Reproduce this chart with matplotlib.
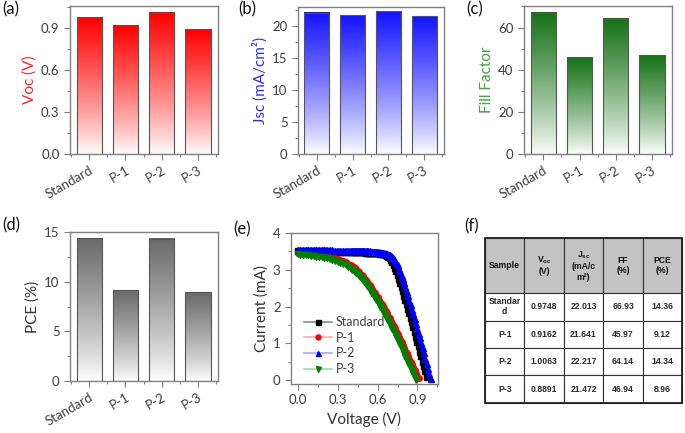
import numpy as np
import matplotlib
matplotlib.use('Agg')
import matplotlib.pyplot as plt
from matplotlib.colors import LinearSegmentedColormap
from matplotlib.patches import Rectangle
from matplotlib.ticker import MultipleLocator

plt.rcParams['font.family'] = ['Lato', 'DejaVu Sans']
plt.rcParams['mathtext.fontset'] = 'custom'
plt.rcParams['mathtext.rm'] = 'Liberation Sans'
plt.rcParams['mathtext.bf'] = 'Liberation Sans:bold'

# --- device parameters ---
samples = ['Standard', 'P-1', 'P-2', 'P-3']
voc = [0.9748, 0.9162, 1.0063, 0.8891]
jsc = [22.013, 21.641, 22.217, 21.472]
ff = [66.93, 45.97, 64.14, 46.94]
pce = [14.36, 9.12, 14.34, 8.96]

# --- J-V sweeps: 0.00-0.38 V every 0.02 V, then every 0.01 V ---
v_grid = np.round(np.concatenate([np.arange(0, 0.39, 0.02), np.arange(0.40, 1.005, 0.01)]), 2)
j_std = [3.51, 3.51, 3.51, 3.51, 3.51, 3.50, 3.50, 3.50, 3.50, 3.50,
         3.50, 3.50, 3.49, 3.49, 3.49, 3.49, 3.49, 3.49, 3.49, 3.49,
         3.49, 3.49, 3.49, 3.48, 3.48, 3.48, 3.48, 3.48, 3.48, 3.48,
         3.48, 3.47, 3.47, 3.47, 3.47, 3.47, 3.46, 3.46, 3.46, 3.45,
         3.45, 3.45, 3.44, 3.44, 3.43, 3.42, 3.40, 3.38, 3.35, 3.31,
         3.26, 3.20, 3.13, 3.05, 2.96, 2.86, 2.76, 2.65, 2.54, 2.42,
         2.30, 2.18, 2.06, 1.94, 1.82, 1.69, 1.57, 1.44, 1.31, 1.18,
         1.05, 0.92, 0.78, 0.65, 0.51, 0.38, 0.24, 0.10]
j_p1 = [3.47, 3.46, 3.46, 3.45, 3.44, 3.43, 3.42, 3.41, 3.40, 3.39,
        3.38, 3.36, 3.35, 3.33, 3.31, 3.29, 3.26, 3.23, 3.20, 3.16,
        3.12, 3.10, 3.07, 3.04, 3.01, 2.98, 2.94, 2.90, 2.86, 2.82,
        2.78, 2.73, 2.68, 2.63, 2.58, 2.52, 2.47, 2.41, 2.36, 2.30,
        2.25, 2.19, 2.13, 2.07, 2.01, 1.95, 1.88, 1.82, 1.75, 1.69,
        1.62, 1.55, 1.48, 1.41, 1.33, 1.26, 1.18, 1.11, 1.03, 0.96,
        0.88, 0.80, 0.73, 0.65, 0.58, 0.50, 0.43, 0.35, 0.28, 0.20,
        0.13, 0.05]
j_p2 = [3.54, 3.54, 3.54, 3.54, 3.54, 3.54, 3.53, 3.53, 3.53, 3.53,
        3.53, 3.53, 3.53, 3.53, 3.52, 3.52, 3.52, 3.52, 3.52, 3.52,
        3.52, 3.52, 3.52, 3.52, 3.51, 3.51, 3.51, 3.51, 3.51, 3.51,
        3.50, 3.50, 3.50, 3.50, 3.50, 3.49, 3.49, 3.49, 3.48, 3.48,
        3.48, 3.47, 3.47, 3.46, 3.45, 3.44, 3.43, 3.42, 3.41, 3.39,
        3.37, 3.34, 3.30, 3.25, 3.19, 3.12, 3.03, 2.94, 2.84, 2.74,
        2.63, 2.52, 2.40, 2.28, 2.16, 2.04, 1.92, 1.79, 1.66, 1.53,
        1.40, 1.27, 1.14, 1.00, 0.87, 0.73, 0.59, 0.45, 0.31, 0.17,
        0.03]
j_p3 = [3.42, 3.41, 3.41, 3.40, 3.39, 3.38, 3.37, 3.36, 3.35, 3.34,
        3.32, 3.31, 3.29, 3.27, 3.25, 3.22, 3.19, 3.16, 3.12, 3.08,
        3.03, 3.00, 2.97, 2.94, 2.91, 2.88, 2.84, 2.80, 2.76, 2.72,
        2.67, 2.62, 2.57, 2.52, 2.46, 2.41, 2.35, 2.29, 2.24, 2.18,
        2.12, 2.06, 1.99, 1.93, 1.87, 1.80, 1.73, 1.67, 1.60, 1.53,
        1.46, 1.39, 1.32, 1.25, 1.17, 1.10, 1.02, 0.95, 0.87, 0.80,
        0.72, 0.64, 0.56, 0.48, 0.41, 0.33, 0.25, 0.17, 0.09, 0.01]

# --- table ---
table_header = ['Sample', r'$\mathbf{V_{oc}}$' + '\n(V)', r'$\mathbf{J_{sc}}$' + '\n(mA/c\nm²)', 'FF\n(%)', 'PCE\n(%)']
table_rows = [['Standar\nd', '0.9748', '22.013', '66.93', '14.36'],
              ['P-1', '0.9162', '21.641', '45.97', '9.12'],
              ['P-2', '1.0063', '22.217', '64.14', '14.34'],
              ['P-3', '0.8891', '21.472', '46.94', '8.96']]

SPINE = '#808080'
TXT = '#404040'

fig = plt.figure(figsize=(6.85, 4.33), dpi=100)


def style(ax):
    for s in ax.spines.values():
        s.set_color(SPINE)
        s.set_linewidth(1.0)
    ax.tick_params(which='both', direction='out', color=SPINE, labelcolor=TXT,
                   top=False, right=False, labelsize=9.5, width=0.8)
    ax.tick_params(which='major', length=4)
    ax.tick_params(which='minor', length=2.5)


def bar_panel(rect, vals, color, ylabel, lab_color, ylim, major):
    ax = fig.add_axes(rect)
    cmap = LinearSegmentedColormap.from_list('fade', ['white', color])
    grad = np.linspace(0, 1, 256).reshape(-1, 1) ** 0.85
    x = np.arange(len(samples))
    for xi, v in zip(x, vals):
        ax.imshow(grad, extent=[xi - 0.35, xi + 0.35, 0, v], origin='lower',
                  aspect='auto', cmap=cmap, vmin=0, vmax=1, zorder=2)
        ax.add_patch(Rectangle((xi - 0.35, 0), 0.7, v, fill=False,
                               edgecolor='#555555', lw=0.8, zorder=3))
    ax.set_xlim(-0.53, 3.55)
    ax.set_ylim(*ylim)
    ax.set_xticks(x)
    ax.set_xticklabels(samples, rotation=30, ha='right', rotation_mode='anchor')
    ax.xaxis.set_minor_locator(MultipleLocator(0.5))
    ax.yaxis.set_major_locator(MultipleLocator(major))
    ax.yaxis.set_minor_locator(MultipleLocator(major / 2))
    ax.set_ylabel(ylabel, color=lab_color, fontsize=11, labelpad=3)
    style(ax)
    return ax


bar_panel([0.1022, 0.6443, 0.216, 0.3418], voc, '#ff0000', 'Voc (V)', '#ff2020', (0, 1.054), 0.3)
bar_panel([0.435, 0.6443, 0.213, 0.3395], jsc, '#1414ff', 'Jsc (mA/cm²)', '#2a2aff', (0, 22.9), 5)
bar_panel([0.765, 0.6443, 0.216, 0.3418], ff, '#167216', 'Fill Factor', '#3aa53a', (0, 70.2), 20)
bar_panel([0.1022, 0.120, 0.216, 0.344], pce, '#6a6a6a', 'PCE (%)', '#333333', (0, 15), 5)

# --- J-V curves ---
ax = fig.add_axes([0.4248, 0.1132, 0.2146, 0.3487])
curves = [(j_std, 'Standard', 'k', 's', (0, 0, 0, 0.45)),
          (j_p1, 'P-1', '#ff0000', 'o', (1, 0, 0, 0.35)),
          (j_p2, 'P-2', '#0000ff', '^', (0, 0, 1, 0.35)),
          (j_p3, 'P-3', '#008000', 'v', (0, 0.5, 0, 0.35))]
for j, name, c, m, lc in curves:
    ax.plot(v_grid[:len(j)], j, color=lc, lw=1.2, marker=m, ms=4,
            mfc=c, mec=c, label=name)
ax.set_xlim(-0.05, 1.054)
ax.set_ylim(-0.1, 4)
ax.xaxis.set_major_locator(MultipleLocator(0.3))
ax.xaxis.set_minor_locator(MultipleLocator(0.15))
ax.yaxis.set_major_locator(MultipleLocator(1))
ax.yaxis.set_minor_locator(MultipleLocator(0.5))
ax.set_xlabel('Voltage (V)', color='#333333', fontsize=11)
ax.set_ylabel('Current (mA)', color='#333333', fontsize=11, labelpad=3)
style(ax)
ax.legend(loc='lower left', bbox_to_anchor=(0.03, 0.0), frameon=False, fontsize=9,
          handlelength=2.2, handletextpad=0.3, labelspacing=0.3, borderaxespad=0.3,
          labelcolor=TXT, markerscale=0.9)

# --- table ---
tax = fig.add_axes([0.708, 0.0693, 0.288, 0.381])
tax.axis('off')
tbl = tax.table(cellText=table_rows, colLabels=table_header, cellLoc='center',
                bbox=[0, 0, 1, 1])
tbl.auto_set_font_size(False)
tbl.set_fontsize(6.2)
for (r, c), cell in tbl.get_celld().items():
    cell.set_edgecolor('#333333')
    cell.set_linewidth(0.8)
    txt = cell.get_text()
    txt.set_family('Liberation Sans')
    txt.set_fontweight('bold')
    if r == 0:
        cell.set_height(2.0)
        cell.set_facecolor('#c3c3c3')
        txt.set_color('#111111')
    else:
        cell.set_height(1.0)
        txt.set_color('#2a2a2a')
tax.add_patch(Rectangle((0, 0), 1, 1, transform=tax.transAxes, fill=False,
                        edgecolor='#222222', lw=1.3, clip_on=False))

# --- panel letters ---
for lab, x, y in [('(a)', 0.003, 0.998), ('(b)', 0.348, 0.998), ('(c)', 0.68, 0.998),
                  ('(d)', 0.003, 0.498), ('(e)', 0.341, 0.49), ('(f)', 0.678, 0.496)]:
    fig.text(x, y, lab, fontsize=12, va='top', ha='left', color='#111111')

fig.savefig('out.png', dpi=100)
